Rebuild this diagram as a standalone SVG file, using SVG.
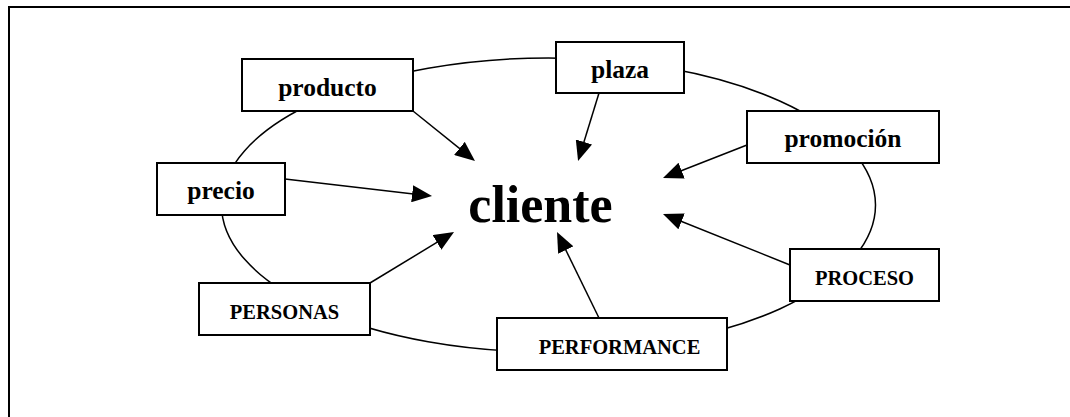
<svg xmlns="http://www.w3.org/2000/svg" width="1070" height="417" viewBox="0 0 1070 417">
<style>
.box{fill:#fff;stroke:#000;stroke-width:2}
.lbl{font-family:"Liberation Serif","Times New Roman",serif;font-weight:bold;fill:#000;text-anchor:middle}
.low{font-size:25.5px}
.up{font-size:20.5px}
.arc{fill:none;stroke:#000;stroke-width:1.5}
.arr{fill:none;stroke:#000;stroke-width:1.5;marker-end:url(#ah)}
</style>
<defs>
<marker id="ah" viewBox="0 0 20 17" refX="10" refY="8.5" markerWidth="20" markerHeight="17" markerUnits="userSpaceOnUse" orient="auto">
<path d="M0,0 L20,8.5 L0,17 z" fill="#000"/>
</marker>
</defs>
<rect width="1070" height="417" fill="#fff"/>
<path d="M9,417 V7 H1070" fill="none" stroke="#000" stroke-width="2"/>
<g id="connectors">
<ellipse class="arc" cx="548.5" cy="205" rx="327" ry="147"/>
<line class="arr" x1="413" y1="111" x2="467.2" y2="154.7"/>
<line class="arr" x1="285" y1="179" x2="422.1" y2="194.9"/>
<line class="arr" x1="599" y1="93" x2="581" y2="151.5"/>
<line class="arr" x1="747" y1="145" x2="672.3" y2="174.3"/>
<line class="arr" x1="370" y1="283" x2="445.5" y2="237.2"/>
<line class="arr" x1="599" y1="318" x2="561.4" y2="241"/>
<line class="arr" x1="790" y1="265" x2="672.3" y2="217.7"/>
</g>
<g id="cliente"><text class="lbl" x="540.5" y="222" font-size="52">cliente</text></g>
<g id="producto"><rect class="box" x="242" y="59" width="171" height="52"/><text class="lbl low" x="327.5" y="96">producto</text></g>
<g id="plaza"><rect class="box" x="556" y="42" width="128" height="51"/><text class="lbl low" x="620" y="77.5">plaza</text></g>
<g id="promocion"><rect class="box" x="747" y="111" width="192" height="52"/><text class="lbl low" x="843" y="147">promoción</text></g>
<g id="precio"><rect class="box" x="157" y="163" width="128" height="52"/><text class="lbl low" x="221" y="199">precio</text></g>
<g id="personas"><rect class="box" x="199" y="283" width="171" height="52"/><text class="lbl up" x="284.5" y="318.5">PERSONAS</text></g>
<g id="performance"><rect class="box" x="497" y="318" width="230" height="52"/><text class="lbl up" x="619.5" y="354">PERFORMANCE</text></g>
<g id="proceso"><rect class="box" x="790" y="249" width="149" height="52"/><text class="lbl up" x="864.5" y="285">PROCESO</text></g>
</svg>
